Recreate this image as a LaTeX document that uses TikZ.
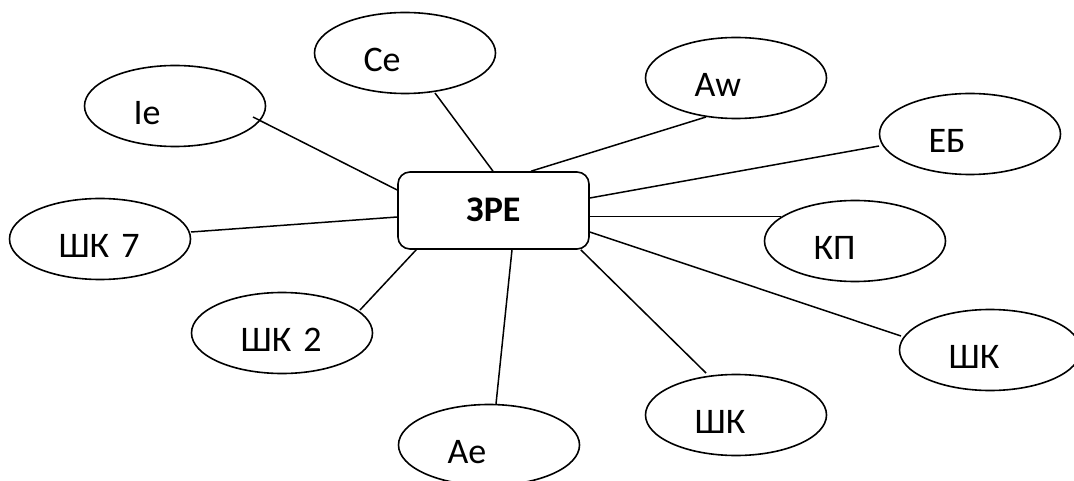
\documentclass[tikz,border=0pt]{standalone}
\usepackage{fontspec}
\setmainfont{Carlito}
\usetikzlibrary{shapes.geometric,calc}
\begin{document}
\begin{tikzpicture}[x=1pt,y=-1pt,
  every node/.style={font=\fontsize{36}{43}\selectfont},
  bubble/.style={ellipse,draw,line width=1.6pt,minimum width=181pt,minimum height=81pt,
    inner sep=0pt,text width=83pt,align=left,text height=37pt,text depth=0pt},
  hub/.style={rectangle,draw,line width=1.6pt,rounded corners=12pt,minimum width=191pt,
    minimum height=77pt,inner sep=0pt,font=\fontsize{36}{43}\selectfont\bfseries,
    text height=23pt,text depth=0pt},
  link/.style={line width=1.5pt}]
\useasboundingbox (0,0) rectangle (1074,481);
\node[hub] (box) at (493.5,210.5) {ЗРЕ};
\node[bubble] (Ie) at (175,106) {Ie};
\node[bubble] (Ce) at (405,53) {Ce};
\node[bubble] (Aw) at (736,78) {Aw};
\node[bubble] (EB) at (970,134) {ЕБ};
\node[bubble] (SK7) at (100,239) {ШК 7};
\node[bubble] (KP) at (855,241) {КП};
\node[bubble] (SK2) at (282,333) {ШК 2};
\node[bubble] (Ae) at (489,445) {Ae};
\node[bubble] (SKl) at (736,415) {ШК};
\node[bubble] (SKr) at (990,350) {ШК};
\draw[link] ($(Ie.center)+(78,11)$) -- ($(box.west)+(0,-20.5)$);
\draw[link] ($(Ce.center)+(30,40)$) -- ($(box.north)+(-0.5,0)$);
\draw[link] ($(Aw.center)+(-30,39)$) -- ($(box.north)+(37.5,0)$);
\draw[link] ($(EB.center)+(-91,12)$) -- ($(box.east)+(0,-12.5)$);
\draw[link] ($(box.east)+(0,6)$) -- ($(KP.center)+(-74,-24.5)$);
\draw[link] ($(box.east)+(0,21.5)$) -- ($(SKr.center)+(-89,-14)$);
\draw[link] ($(box.south east)+(-9,0)$) -- ($(SKl.center)+(-30,-42)$);
\draw[link] ($(box.south)+(18.5,0)$) -- ($(Ae.center)+(7,-41)$);
\draw[link] ($(box.south west)+(19,0)$) -- ($(SK2.center)+(78,-23)$);
\draw[link] ($(SK7.center)+(91,-7)$) -- ($(box.west)+(0,6.5)$);
\end{tikzpicture}
\end{document}
